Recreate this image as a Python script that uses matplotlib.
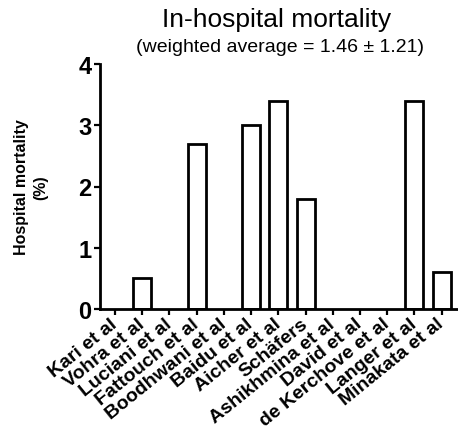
import numpy as np
import matplotlib
matplotlib.use("Agg")
import matplotlib.pyplot as plt

plt.rcParams['font.family'] = ['Liberation Sans', 'DejaVu Sans']

# study labels and in-hospital mortality (%)
studies = ["Kari et al", "Vohra et al", "Luciani et al", "Fattouch et al",
           "Boodhwani et al", "Baidu et al", "Aicher et al", "Sch\u00e4fers",
           "Ashikhmina et al", "David et al", "de Kerchove et al",
           "Langer et al", "Minakata et al"]
mortality = [0, 0.5, 0, 2.7, 0, 3.0, 3.4, 1.8, 0, 0, 0, 3.4, 0.6]
yticks = [0, 1, 2, 3, 4]

fig = plt.figure(figsize=(4.58, 4.35), dpi=100)
ax = fig.add_axes([100/458, 1 - 310/435, 358/458, 245/435])

x = np.arange(len(studies))
edges = ['black' if v > 0 else 'none' for v in mortality]
ax.bar(x, mortality, width=0.66, color='white', edgecolor=edges, linewidth=2)

ax.set_xlim(-0.55, 12.6)
ax.set_ylim(0, 4)
ax.set_yticks(yticks)
ax.set_yticklabels([str(t) for t in yticks], fontsize=17, fontweight='bold')
ax.set_xticks(x)
ax.set_xticklabels(studies, fontsize=14, fontweight='bold')
plt.setp(ax.get_xticklabels(), rotation=39, ha='right', va='center',
         rotation_mode='anchor')

for s in ['top', 'right']:
    ax.spines[s].set_visible(False)
for s in ['left', 'bottom']:
    ax.spines[s].set_linewidth(2)
ax.tick_params(axis='both', length=4, width=1.6, pad=2)
ax.tick_params(axis='x', pad=5)

ax.set_ylabel("Hospital mortality\n(%)", fontsize=11.5, fontweight='bold',
              labelpad=22, linespacing=1.3)

fig.text(277/458, 1 - 20/435, "In-hospital mortality", fontsize=19,
         ha='center', va='center')
fig.text(280/458, 1 - 48/435, "(weighted average = 1.46 \u00b1 1.21)",
         fontsize=14, ha='center', va='center')

fig.savefig("out.png", dpi=100)
